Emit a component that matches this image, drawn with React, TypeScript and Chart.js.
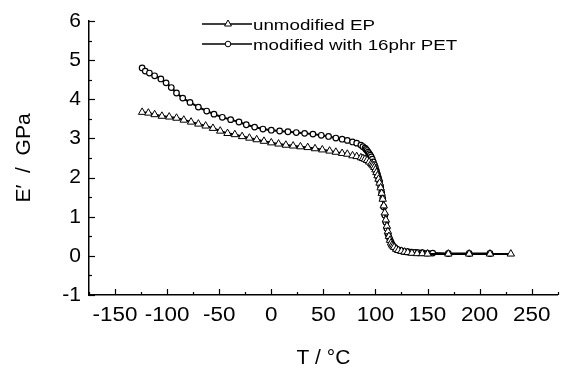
import React, { useEffect, useRef } from 'react';
import { Chart, registerables } from 'chart.js';

Chart.register(...registerables);

// ---- data ----
const epTemps = [-124, -118, -112, -105, -98, -91, -84, -77, -70, -63, -56, -49, -42, -35, -28, -21, -14, -7, 0, 7, 14, 21, 28, 35, 42, 49, 56, 62, 68, 73, 78, 82, 86, 88, 90, 92, 94, 96, 97, 98, 99, 100, 101, 102, 103, 104, 105, 106, 107, 108, 109, 110, 111, 112, 113, 114, 115, 116, 117, 118, 120, 122, 125, 128, 131, 135, 140, 145, 150, 170, 190, 210, 230];
const epModulus = [3.67, 3.65, 3.61, 3.57, 3.55, 3.52, 3.47, 3.42, 3.37, 3.32, 3.26, 3.19, 3.13, 3.1, 3.05, 3.01, 2.97, 2.93, 2.89, 2.86, 2.83, 2.81, 2.79, 2.77, 2.74, 2.71, 2.68, 2.65, 2.62, 2.6, 2.56, 2.54, 2.51, 2.49, 2.47, 2.44, 2.4, 2.36, 2.33, 2.3, 2.26, 2.2, 2.13, 2.05, 1.96, 1.86, 1.74, 1.6, 1.45, 1.28, 1.1, 0.92, 0.76, 0.62, 0.5, 0.4, 0.33, 0.28, 0.25, 0.22, 0.17, 0.14, 0.12, 0.1, 0.09, 0.07, 0.06, 0.06, 0.05, 0.05, 0.05, 0.05, 0.05];

const petTemps = [-124, -121, -117, -112, -106, -101, -96, -91, -85, -78, -70, -62, -55, -47, -39, -31, -24, -16, -8, 0, 8, 16, 24, 32, 40, 48, 55, 62, 68, 73, 78, 82, 86, 88, 90, 91, 92, 93, 94, 95, 96, 97, 98, 99, 100, 101, 102, 103, 104, 105, 106, 107, 108, 109, 110, 111, 112, 113, 114, 115, 116, 117, 118, 119, 120, 121, 122, 124, 126, 128, 130, 132, 135, 138, 141, 145, 150, 155, 170, 190, 210];
const petModulus = [4.8, 4.72, 4.67, 4.6, 4.52, 4.42, 4.3, 4.16, 4.03, 3.92, 3.8, 3.7, 3.62, 3.54, 3.48, 3.42, 3.35, 3.29, 3.24, 3.21, 3.19, 3.17, 3.15, 3.13, 3.11, 3.08, 3.05, 3.01, 2.98, 2.95, 2.91, 2.88, 2.83, 2.79, 2.75, 2.72, 2.69, 2.65, 2.61, 2.57, 2.53, 2.47, 2.4, 2.33, 2.26, 2.17, 2.08, 1.99, 1.9, 1.77, 1.62, 1.47, 1.25, 1.04, 0.86, 0.7, 0.56, 0.48, 0.41, 0.35, 0.29, 0.25, 0.22, 0.2, 0.18, 0.16, 0.15, 0.14, 0.12, 0.11, 0.1, 0.1, 0.09, 0.09, 0.08, 0.08, 0.07, 0.07, 0.06, 0.06, 0.06];

const seriesNames = ['unmodified EP', 'modified with 16phr PET'];
const xTickValues = [-150, -100, -50, 0, 50, 100, 150, 200, 250];
const yTickValues = [-1, 0, 1, 2, 3, 4, 5, 6];
const xTitle = 'T / °C';
const yTitle = 'E′  /  GPa';

const FONT = '"Liberation Sans", Arial, Helvetica, sans-serif';

const inwardTicks = {
  id: 'inwardTicks',
  beforeDatasetsDraw(chart: any) {
    const { ctx, chartArea, scales } = chart;
    const xs = scales.x;
    const ys = scales.y;
    ctx.save();
    ctx.strokeStyle = '#000';
    ctx.lineWidth = 1.2;
    for (let v = -1; v <= 6.001; v += 0.5) {
      const py = Math.round(ys.getPixelForValue(v)) + 0.5;
      const len = Math.abs(v - Math.round(v)) < 1e-6 ? 6 : 3;
      ctx.beginPath();
      ctx.moveTo(chartArea.left, py);
      ctx.lineTo(chartArea.left + len, py);
      ctx.stroke();
    }
    for (let v = -175; v <= 275.001; v += 25) {
      const px = Math.round(xs.getPixelForValue(v)) + 0.5;
      const len = Math.abs(v % 50) < 1e-6 ? 6 : 3;
      ctx.beginPath();
      ctx.moveTo(px, chartArea.bottom);
      ctx.lineTo(px, chartArea.bottom - len);
      ctx.stroke();
    }
    // x tick labels, slightly wide like the reference
    ctx.fillStyle = '#000';
    ctx.font = `20px ${FONT}`;
    ctx.textAlign = 'center';
    ctx.textBaseline = 'middle';
    xTickValues.forEach((v) => {
      const px = xs.getPixelForValue(v);
      ctx.save();
      ctx.translate(px, chartArea.bottom + 20);
      ctx.scale(1.12, 1);
      ctx.fillText(String(v), 0, 0);
      ctx.restore();
    });
    ctx.restore();
  },
};

function drawTriangle(ctx: CanvasRenderingContext2D, x: number, y: number, r: number) {
  ctx.beginPath();
  ctx.moveTo(x, y - r);
  ctx.lineTo(x + r * 0.866, y + r * 0.5);
  ctx.lineTo(x - r * 0.866, y + r * 0.5);
  ctx.closePath();
  ctx.fillStyle = '#fff';
  ctx.fill();
  ctx.stroke();
}

const customLegend = {
  id: 'customLegend',
  afterDraw(chart: any) {
    const { ctx } = chart;
    const rows = [
      { y: 24, textY: 29.5, kind: 'triangle' },
      { y: 44, textY: 50, kind: 'circle' },
    ];
    ctx.save();
    rows.forEach((row, i) => {
      ctx.strokeStyle = '#000';
      ctx.lineWidth = 1.6;
      ctx.beginPath();
      ctx.moveTo(202, row.y);
      ctx.lineTo(252, row.y);
      ctx.stroke();
      ctx.lineWidth = 1;
      if (row.kind === 'triangle') {
        drawTriangle(ctx, 228, row.y, 4);
      } else {
        ctx.beginPath();
        ctx.arc(228, row.y, 2.8, 0, Math.PI * 2);
        ctx.fillStyle = '#fff';
        ctx.fill();
        ctx.stroke();
      }
      ctx.save();
      ctx.translate(253, row.textY);
      ctx.scale(1.25, 1);
      ctx.font = `15px ${FONT}`;
      ctx.fillStyle = '#000';
      ctx.textBaseline = 'alphabetic';
      ctx.textAlign = 'left';
      ctx.fillText(seriesNames[i], 0, 0);
      ctx.restore();
    });
    ctx.restore();
  },
};

export default function App() {
  const canvasRef = useRef<HTMLCanvasElement | null>(null);

  useEffect(() => {
    document.body.style.margin = '0';
    const canvas = canvasRef.current;
    if (!canvas) return;
    const chart = new Chart(canvas, {
      type: 'scatter',
      data: {
        datasets: [
          {
            label: seriesNames[0],
            data: epTemps.map((t, i) => ({ x: t, y: epModulus[i] })),
            showLine: true,
            borderColor: '#000',
            borderWidth: 2,
            pointStyle: 'triangle',
            pointRadius: 4.3,
            pointBackgroundColor: '#fff',
            pointBorderColor: '#000',
            pointBorderWidth: 1,
            tension: 0,
          },
          {
            label: seriesNames[1],
            data: petTemps.map((t, i) => ({ x: t, y: petModulus[i] })),
            showLine: true,
            borderColor: '#000',
            borderWidth: 2,
            pointStyle: 'circle',
            pointRadius: 2.8,
            pointBackgroundColor: '#fff',
            pointBorderColor: '#000',
            pointBorderWidth: 1.2,
            tension: 0,
          },
        ],
      },
      options: {
        responsive: false,
        animation: false,
        devicePixelRatio: 1,
        layout: { padding: { top: 21, right: 0, bottom: 0, left: 0 } },
        plugins: {
          legend: { display: false },
          tooltip: { enabled: false },
        },
        scales: {
          x: {
            type: 'linear',
            min: -175,
            max: 275,
            afterBuildTicks: (scale: any) => {
              scale.ticks = xTickValues.map((v) => ({ value: v }));
            },
            afterFit: (scale: any) => {
              scale.height = 77;
            },
            grid: { display: false, drawTicks: false },
            border: { display: true, color: '#000', width: 1.5 },
            ticks: {
              display: false,
            },
            title: {
              display: true,
              text: xTitle,
              color: '#000',
              font: { family: FONT, size: 21 },
              padding: { top: 0, bottom: 1.5 },
            },
          },
          y: {
            type: 'linear',
            min: -1,
            max: 6,
            afterBuildTicks: (scale: any) => {
              scale.ticks = yTickValues.map((v) => ({ value: v }));
            },
            afterFit: (scale: any) => {
              scale.width = 89;
            },
            grid: { display: false, drawTicks: false },
            border: { display: true, color: '#000', width: 1.5 },
            ticks: {
              color: '#000',
              padding: 8,
              autoSkip: false,
              font: { family: FONT, size: 21 },
            },
            title: {
              display: true,
              text: yTitle,
              color: '#000',
              font: { family: FONT, size: 21 },
              padding: { top: 11.5, bottom: 0 },
            },
          },
        },
      },
      plugins: [inwardTicks, customLegend],
    });
    return () => chart.destroy();
  }, []);

  return (
    <div style={{ width: 563, height: 372, background: '#fff' }}>
      <canvas ref={canvasRef} width={563} height={372} style={{ display: 'block' }} />
    </div>
  );
}
